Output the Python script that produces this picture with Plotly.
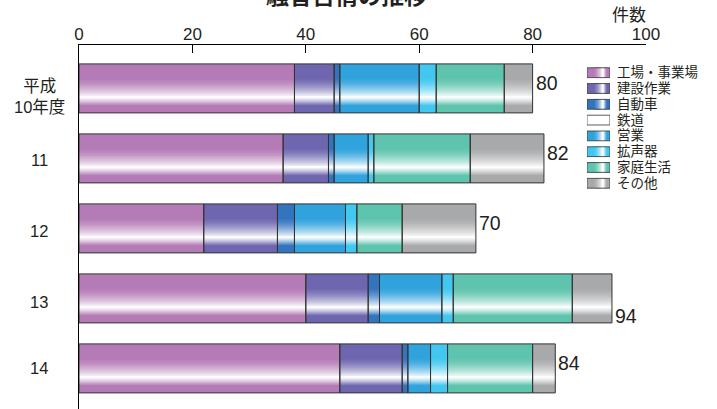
import plotly.graph_objects as go

# Noise complaints by source, fiscal years H10-H14 (件数)
years = ["平成<br>10年度", "11", "12", "13", "14"]
series = ["工場・事業場", "建設作業", "自動車", "鉄道", "営業", "拡声器", "家庭生活", "その他"]
factory = [38, 36, 22, 40, 46]
construction = [7, 8, 13, 11, 11]
automobile = [1, 1, 3, 2, 1]
railway = [0, 0, 0, 0, 0]
business = [14, 6, 9, 11, 4]
loudspeaker = [3, 1, 2, 2, 3]
household = [12, 17, 8, 21, 15]
other = [5, 13, 13, 7, 4]
x_ticks = [0, 20, 40, 60, 80, 100]

values = [factory, construction, automobile, railway, business, loudspeaker, household, other]
colors = ["#b47bb6", "#6e67af", "#3474be", "#ffffff", "#30a2dc", "#42c8f0", "#5ec4ae", "#a8a9ab"]

FONT = "Liberation Sans, Noto Sans CJK JP, sans-serif"
TEXT = "#231f20"
EDGE = "#333333"
BAR_H = 0.70      # bar thickness in category units
N_LAYERS = 18     # steps of the glossy gradient


def mix(hex_color, t):
    """Blend a colour towards white by fraction t."""
    h = hex_color.lstrip("#")
    rgb = [int(h[i:i + 2], 16) for i in (0, 2, 4)]
    return "rgb({},{},{})".format(*[round(c + (255 - c) * t) for c in rgb])


def gloss_layers(k_total=N_LAYERS, v0=0.28, peak=0.68, v1=0.85):
    """Nested bands (whiteness, start, end) across the bar thickness:
    solid colour at the edges, white highlight just below the middle."""
    out = [(0.0, 0.0, 1.0)]
    for k in range(1, k_total + 1):
        s = (k - 0.5) / k_total
        a = v0 + (peak - v0) * s ** (1 / 1.5)
        b = peak + (v1 - peak) * (1 - s) ** (1 / 1.2)
        out.append((0.97 * k / k_total, a, b))
    return out


layers = gloss_layers()
fig = go.Figure()

# stacked segments: starting point of each segment is the running total
bases = []
running = [0] * len(years)
for vals in values:
    bases.append(list(running))
    running = [r + v for r, v in zip(running, vals)]
totals = running

for vals, base, col in zip(values, bases, colors):
    if sum(vals) == 0:
        continue
    for t, a, b in layers:
        fig.add_trace(go.Bar(
            y=years, x=vals, base=base, orientation="h",
            width=(b - a) * BAR_H, offset=-BAR_H / 2 + a * BAR_H,
            marker=dict(color=mix(col, t), line=dict(width=0)),
            showlegend=False, hoverinfo="skip"))

for vals, base in zip(values, bases):
    if sum(vals) == 0:
        continue
    fig.add_trace(go.Bar(
        y=years, x=vals, base=base, orientation="h",
        width=BAR_H, offset=-BAR_H / 2,
        marker=dict(color="rgba(0,0,0,0)", line=dict(width=1, color=EDGE)),
        showlegend=False, hoverinfo="skip"))

# legend swatches drawn as small gradient bars in their own axes
SW_H = 0.62
for i, col in enumerate(colors):
    for t, a, b in layers:
        fig.add_trace(go.Bar(
            x=[0], y=[SW_H], base=[i - SW_H / 2], xaxis="x2", yaxis="y2",
            width=b - a, offset=-0.5 + a,
            marker=dict(color=mix(col, t), line=dict(width=0)),
            showlegend=False, hoverinfo="skip"))
    fig.add_trace(go.Bar(
        x=[0], y=[SW_H], base=[i - SW_H / 2], xaxis="x2", yaxis="y2",
        width=1, offset=-0.5,
        marker=dict(color="rgba(0,0,0,0)", line=dict(width=0.8, color=EDGE)),
        showlegend=False, hoverinfo="skip"))

annotations = []
# legend labels next to the swatches
for i, name in enumerate(series):
    annotations.append(dict(
        x=0.5, xref="x2", y=i, yref="y2", text=name, showarrow=False,
        xanchor="left", yanchor="middle", xshift=5,
        font=dict(family=FONT, size=13.5, color=TEXT)))

# category labels left of the axis (positioned by category index)
cat_shift = [-8, -2, -3, -4, 0]
for i, (yr, dy) in enumerate(zip(years, cat_shift)):
    annotations.append(dict(
        x=-0.0705, xref="paper", y=i, yref="y", text=yr, showarrow=False,
        xanchor="center", yanchor="middle", align="center", yshift=dy,
        font=dict(family=FONT, size=16.5, color=TEXT)))

# totals at the end of each bar
total_shift = [5, 5, 5, -18, 5]
for i, (tot, dy) in enumerate(zip(totals, total_shift)):
    annotations.append(dict(
        x=tot, xref="x", y=i, yref="y", text=str(tot), showarrow=False,
        xanchor="left", yanchor="middle", xshift=1, yshift=dy,
        font=dict(family=FONT, size=19.5, color=TEXT)))

annotations.append(dict(
    x=0.471, xref="paper", y=1.1346, yref="paper", text="<b>騒音苦情の推移</b>",
    showarrow=False, xanchor="center", yanchor="middle",
    font=dict(family=FONT, size=23, color=TEXT)))
annotations.append(dict(
    x=1.004, xref="paper", y=1.0824, yref="paper", text="件数",
    showarrow=False, xanchor="right", yanchor="middle",
    font=dict(family=FONT, size=17, color=TEXT)))

fig.update_layout(
    width=717, height=409, autosize=False,
    margin=dict(l=79, r=71, t=45, b=0),
    paper_bgcolor="white", plot_bgcolor="white",
    barmode="overlay", showlegend=False,
    font=dict(family=FONT, color=TEXT),
    xaxis=dict(range=[0, 100], side="top", tickvals=x_ticks,
               showline=True, linecolor="black", linewidth=1,
               ticks="inside", ticklen=8, tickwidth=1, tickcolor="black",
               ticklabelstandoff=-3,
               showgrid=False, zeroline=False,
               tickfont=dict(family=FONT, size=17, color=TEXT)),
    yaxis=dict(type="category", categoryorder="array", categoryarray=years,
               range=[4.58, -0.62], showline=True, linecolor="black",
               linewidth=1, showticklabels=False, ticks="",
               showgrid=False, zeroline=False),
    xaxis2=dict(domain=[0.8959, 0.9365], anchor="y2", range=[-0.5, 0.5],
                visible=False),
    yaxis2=dict(domain=[0.5984, 0.9456], anchor="x2", range=[7.5, -0.5],
                visible=False),
    annotations=annotations,
)

fig.write_html("out.html")
